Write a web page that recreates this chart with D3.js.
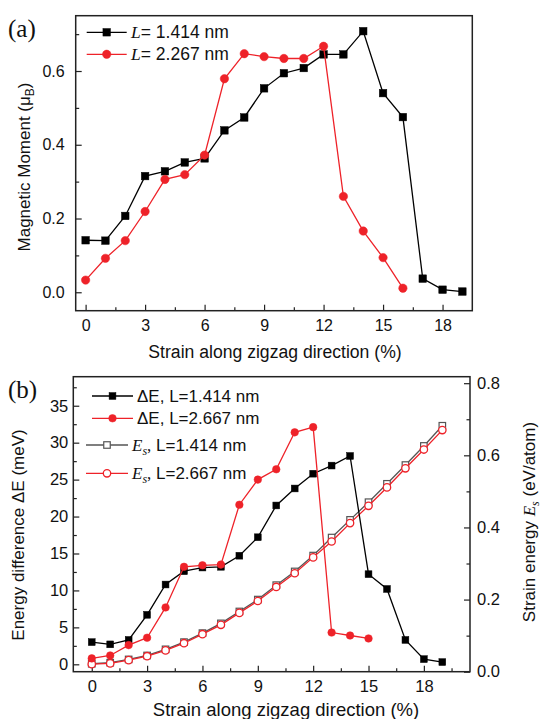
<!DOCTYPE html>
<html>
<head>
<meta charset="utf-8">
<script src="https://cdn.jsdelivr.net/npm/d3@7"></script>
<style>
body { margin: 0; background: #fff; }
svg text { font-family: "Liberation Sans", Arial, sans-serif; fill: #111; }
.serif { font-family: "Liberation Serif", "Times New Roman", serif; }
.axis line { stroke: #222; stroke-width: 1.2; }
.axis path { display: none; }
</style>
</head>
<body>
<svg id="chart" width="541" height="719"></svg>
<script>
//Datos panel (a)
const strainA1 = [0,1,2,3,4,5,6,7,8,9,10,11,12,13,14,15,16,17,18,19];
const momentA1 = [0.141,0.140,0.207,0.315,0.328,0.352,0.363,0.439,0.474,0.553,0.594,0.608,0.645,0.645,0.708,0.540,0.475,0.037,0.007,0.002];
const strainA2 = [0,1,2,3,4,5,6,7,8,9,10,11,12,13,14,15,16];
const momentA2 = [0.033,0.092,0.140,0.219,0.306,0.319,0.372,0.579,0.647,0.639,0.634,0.634,0.667,0.260,0.166,0.094,0.011];

//Datos panel (b)
const strainB1 = [0,1,2,3,4,5,6,7,8,9,10,11,12,13,14,15,16,17,18,19];
const deltaE1 = [3.0,2.7,3.3,6.7,10.8,12.6,13.1,13.2,14.7,17.2,21.5,23.8,25.8,26.9,28.2,12.2,10.2,3.3,0.7,0.3];
const strainB2 = [0,1,2,3,4,5,6,7,8,9,10,11,12,13,14,15];
const deltaE2 = [0.8,1.2,2.6,3.6,7.7,13.2,13.4,13.5,21.6,25.0,26.4,31.4,32.1,4.3,3.9,3.5];
const strainEs = [0,1,2,3,4,5,6,7,8,9,10,11,12,13,14,15,16,17,18,19];
const es1 = [0.022,0.025,0.034,0.045,0.062,0.082,0.107,0.134,0.167,0.200,0.240,0.278,0.322,0.372,0.421,0.470,0.521,0.573,0.626,0.682];
const es2 = [0.021,0.023,0.032,0.043,0.059,0.079,0.104,0.130,0.163,0.196,0.235,0.273,0.317,0.361,0.412,0.460,0.511,0.564,0.616,0.670];

//Ticks
const xTicks = [0,3,6,9,12,15,18];
const xMinorA = [1.5,4.5,7.5,10.5,13.5,16.5];
const xMinorB = [1.5,4.5,7.5,10.5,13.5,16.5,19.5];
const yTicksA = [0,0.2,0.4,0.6];
const yMinorA = [0.1,0.3,0.5,0.7];
const yTicksB = [0,5,10,15,20,25,30,35];
const yMinorB = [2.5,7.5,12.5,17.5,22.5,27.5,32.5,37.5];
const rTicksB = [0,0.2,0.4,0.6,0.8];
const rMinorB = [0.1,0.3,0.5,0.7];

const RED = '#ee2229', BLACK = '#000', GREY = '#555';

const svg = d3.select('#chart');

function zip(xs, ys) { return xs.map(function(x, i) { return [x, ys[i]]; }); }

function frame(x, y) {
    svg.append('rect')
        .attr('x', x.range()[0]).attr('y', y.range()[1])
        .attr('width', x.range()[1] - x.range()[0])
        .attr('height', y.range()[0] - y.range()[1])
        .attr('fill', 'none').attr('stroke', '#222').attr('stroke-width', 1.5);
}

function axis(pos, transform, ax, fontSize) {
    let g = svg.append('g').attr('class', 'axis').attr('transform', transform).call(ax);
    g.selectAll('text').attr('fill', '#111').style('font-size', fontSize || '16px');
    return g;
}

function drawSeries(x, y, data, color, shape, filled, size) {
    let g = svg.append('g');
    g.append('path')
        .datum(data)
        .attr('fill', 'none')
        .attr('stroke', color)
        .attr('stroke-width', 1.3)
        .attr('d', d3.line().x(function(d){ return x(d[0]); }).y(function(d){ return y(d[1]); }));
    drawMarkers(g, data.map(function(d){ return [x(d[0]), y(d[1])]; }), color, shape, filled, size);
}

function drawMarkers(g, pts, color, shape, filled, size) {
    if (shape === 'square') {
        g.selectAll(null).data(pts).enter().append('rect')
            .attr('x', function(d){ return d[0] - size/2; })
            .attr('y', function(d){ return d[1] - size/2; })
            .attr('width', size).attr('height', size)
            .attr('fill', filled ? color : '#fff')
            .attr('stroke', color).attr('stroke-width', filled ? 0.5 : 1.2);
    } else {
        g.selectAll(null).data(pts).enter().append('circle')
            .attr('cx', function(d){ return d[0]; })
            .attr('cy', function(d){ return d[1]; })
            .attr('r', size/2)
            .attr('fill', filled ? color : '#fff')
            .attr('stroke', color).attr('stroke-width', filled ? 0.5 : 1.3);
    }
}

function legendRow(x1, x2, y, color, shape, filled, size) {
    let g = svg.append('g');
    g.append('line').attr('x1', x1).attr('x2', x2).attr('y1', y).attr('y2', y)
        .attr('stroke', color).attr('stroke-width', 1.3);
    drawMarkers(g, [[(x1 + x2) / 2, y]], color, shape, filled, size);
}

/////
// Panel (a)
/////
let xA = d3.scaleLinear().domain([-0.5, 19.5]).range([75.7, 472.3]);
let yA = d3.scaleLinear().domain([-0.05, 0.75]).range([310.7, 15.7]);

axis('b', 'translate(0,310.7)', d3.axisBottom(xA).tickValues(xTicks).tickSize(-6).tickPadding(9).tickFormat(d3.format('d')));
axis('b', 'translate(0,310.7)', d3.axisBottom(xA).tickValues(xMinorA).tickSize(-3.5).tickFormat(''));
axis('l', 'translate(75.7,0)', d3.axisLeft(yA).tickValues(yTicksA).tickSize(-6).tickPadding(11).tickFormat(d3.format('.1f')));
axis('l', 'translate(75.7,0)', d3.axisLeft(yA).tickValues(yMinorA).tickSize(-3.5).tickFormat(''));

drawSeries(xA, yA, zip(strainA1, momentA1), BLACK, 'square', true, 7.5);
drawSeries(xA, yA, zip(strainA2, momentA2), RED, 'circle', true, 8.4);
frame(xA, yA);

//Leyenda (a)
legendRow(86.7, 126.7, 32.3, BLACK, 'square', true, 7.5);
legendRow(86.7, 126.7, 54.3, RED, 'circle', true, 8.4);
let la1 = svg.append('text').attr('x', 131).attr('y', 38.3).style('font-size', '17.5px');
la1.append('tspan').attr('class', 'serif').attr('font-style', 'italic').text('L');
la1.append('tspan').text('= 1.414 nm');
let la2 = svg.append('text').attr('x', 131).attr('y', 60.3).style('font-size', '17.5px');
la2.append('tspan').attr('class', 'serif').attr('font-style', 'italic').text('L');
la2.append('tspan').text('= 2.267 nm');

svg.append('text').attr('class', 'serif').attr('x', 8).attr('y', 37).style('font-size', '25px').text('(a)');

svg.append('text').attr('x', 275).attr('y', 357.5).attr('text-anchor', 'middle')
    .style('font-size', '17.6px').text('Strain along zigzag direction (%)');

let ta = svg.append('text').attr('transform', 'translate(30,167) rotate(-90)')
    .attr('text-anchor', 'middle').style('font-size', '17px');
ta.append('tspan').text('Magnetic Moment (\u03bc');
ta.append('tspan').attr('dy', 4).style('font-size', '12px').text('B');
ta.append('tspan').attr('dy', -4).text(')');

/////
// Panel (b)
/////
let xB = d3.scaleLinear().domain([-1, 20.5]).range([73.3, 470]);
let yB = d3.scaleLinear().domain([-1, 38.93]).range([671.7, 376.7]);
let rB = d3.scaleLinear().domain([0, 0.818]).range([671.7, 376.7]);

axis('b', 'translate(0,671.7)', d3.axisBottom(xB).tickValues(xTicks).tickSize(-6).tickPadding(8.5).tickFormat(d3.format('d')), '16.5px');
axis('b', 'translate(0,671.7)', d3.axisBottom(xB).tickValues(xMinorB).tickSize(-3.5).tickFormat(''));
axis('l', 'translate(73.3,0)', d3.axisLeft(yB).tickValues(yTicksB).tickSize(-6).tickPadding(5).tickFormat(d3.format('d')), '16.5px');
axis('l', 'translate(73.3,0)', d3.axisLeft(yB).tickValues(yMinorB).tickSize(-3.5).tickFormat(''));
axis('r', 'translate(470,0)', d3.axisRight(rB).tickValues(rTicksB).tickSize(-6).tickPadding(7).tickFormat(d3.format('.1f')), '16.5px');
axis('r', 'translate(470,0)', d3.axisRight(rB).tickValues(rMinorB).tickSize(-3.5).tickFormat(''));

drawSeries(xB, rB, zip(strainEs, es1), GREY, 'square', false, 6.5);
drawSeries(xB, rB, zip(strainEs, es2), RED, 'circle', false, 7.4);
drawSeries(xB, yB, zip(strainB1, deltaE1), BLACK, 'square', true, 6.8);
drawSeries(xB, yB, zip(strainB2, deltaE2), RED, 'circle', true, 7.6);
frame(xB, yB);

//Leyenda (b)
legendRow(92, 133, 396, BLACK, 'square', true, 6.8);
legendRow(92, 133, 418.3, RED, 'circle', true, 7.6);
legendRow(86, 128, 445, GREY, 'square', false, 6.5);
legendRow(86, 128, 473.3, RED, 'circle', false, 7.4);

svg.append('text').attr('x', 137).attr('y', 402).style('font-size', '17px').text('\u0394E, L=1.414 nm');
svg.append('text').attr('x', 137).attr('y', 424.3).style('font-size', '17px').text('\u0394E, L=2.667 nm');
[[445, '1.414'], [473.3, '2.667']].forEach(function(r) {
    let t = svg.append('text').attr('x', 132).attr('y', r[0] + 6).style('font-size', '17px');
    t.append('tspan').attr('class', 'serif').attr('font-style', 'italic').text('E');
    t.append('tspan').attr('class', 'serif').attr('font-style', 'italic').attr('dy', 4).style('font-size', '12px').text('s');
    t.append('tspan').attr('class', 'serif').attr('dy', -4).text(',');
    t.append('tspan').text('  L=' + r[1] + ' nm');
});

svg.append('text').attr('class', 'serif').attr('x', 8).attr('y', 398).style('font-size', '25px').text('(b)');

svg.append('text').attr('x', 286).attr('y', 716).attr('text-anchor', 'middle')
    .style('font-size', '18.5px').text('Strain along zigzag direction (%)');

svg.append('text').attr('transform', 'translate(24,535) rotate(-90)')
    .attr('text-anchor', 'middle').style('font-size', '17px')
    .text('Energy difference \u0394E (meV)');

let tr = svg.append('text').attr('transform', 'translate(535,522) rotate(-90)')
    .attr('text-anchor', 'middle').style('font-size', '17px');
tr.append('tspan').text('Strain energy ');
tr.append('tspan').attr('class', 'serif').attr('font-style', 'italic').text('E');
tr.append('tspan').attr('class', 'serif').attr('font-style', 'italic').attr('dy', 4).style('font-size', '12px').text('s');
tr.append('tspan').attr('dy', -4).text(' (eV/atom)');
</script>
</body>
</html>
